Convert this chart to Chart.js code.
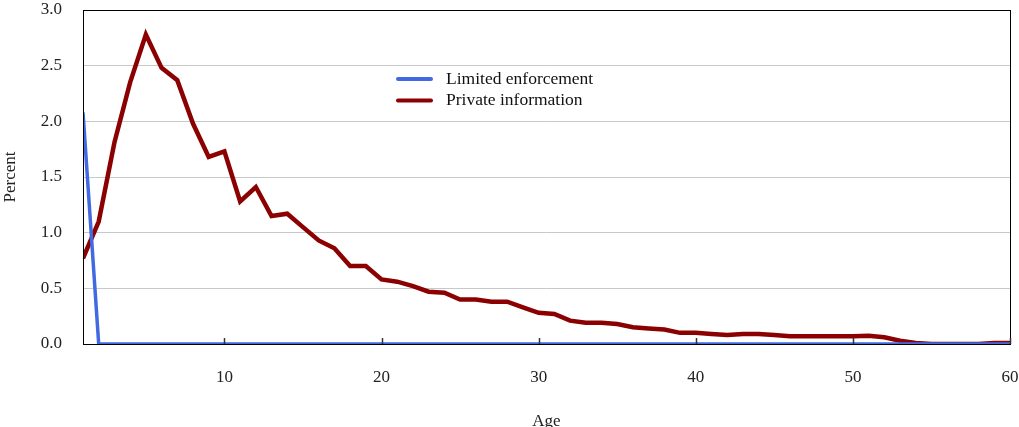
<!DOCTYPE html>
<html>
<head>
<meta charset="utf-8">
<script src="https://cdn.jsdelivr.net/npm/chart.js@4.4.1/dist/chart.umd.min.js"></script>
<style>
  html, body { margin: 0; padding: 0; background: #fff; }
  #wrap { position: relative; width: 1019px; height: 427px; }
</style>
</head>
<body>
<div id="wrap"><canvas id="chart" width="1019" height="427"></canvas></div>
<script>
/* ================= DATA ================= */
const ages = [];
for (let a = 1; a <= 60; a++) ages.push(a);

const limitedEnforcement = [
  2.08, 0, 0, 0, 0, 0, 0, 0, 0, 0,
  0, 0, 0, 0, 0, 0, 0, 0, 0, 0,
  0, 0, 0, 0, 0, 0, 0, 0, 0, 0,
  0, 0, 0, 0, 0, 0, 0, 0, 0, 0,
  0, 0, 0, 0, 0, 0, 0, 0, 0, 0,
  0, 0, 0, 0, 0, 0, 0, 0, 0, 0
];

const privateInformation = [
  0.77, 1.10, 1.81, 2.35, 2.78, 2.48, 2.37, 1.98, 1.68, 1.73,
  1.28, 1.41, 1.15, 1.17, 1.05, 0.93, 0.86, 0.70, 0.70, 0.58,
  0.56, 0.52, 0.47, 0.46, 0.40, 0.40, 0.38, 0.38, 0.33, 0.28,
  0.27, 0.21, 0.19, 0.19, 0.18, 0.15, 0.14, 0.13, 0.10, 0.10,
  0.09, 0.08, 0.09, 0.09, 0.08, 0.07, 0.07, 0.07, 0.07, 0.07,
  0.075, 0.06, 0.03, 0.01, 0, 0, 0, 0, 0.01, 0.01
];

const xTickValues = [10, 20, 30, 40, 50, 60];
const seriesLabels = ["Limited enforcement", "Private information"];
const seriesColors = ["#4169e1", "#8b0000"];

/* ================= PLUGINS ================= */
const FONT = "'Liberation Serif', 'Times New Roman', serif";

// frame around plot + small inward ticks on x axis
const framePlugin = {
  id: "frame",
  afterDraw(chart) {
    const { ctx, chartArea: a, scales } = chart;
    ctx.save();
    ctx.strokeStyle = "#000";
    ctx.lineWidth = 1;
    ctx.strokeRect(a.left + 0.5, a.top + 0.5, a.right - a.left, a.bottom - a.top);
    ctx.lineWidth = 1.5;
    ctx.strokeStyle = "#333";
    xTickValues.forEach(v => {
      const x = Math.round(scales.x.getPixelForValue(v)) + 0.5;
      ctx.beginPath();
      ctx.moveTo(x, a.bottom);
      ctx.lineTo(x, a.bottom - 6);
      ctx.stroke();
    });
    ctx.restore();
  }
};

// legend drawn inside the plot area
const legendPlugin = {
  id: "innerLegend",
  afterDraw(chart) {
    const { ctx } = chart;
    ctx.save();
    ctx.font = "17.5px " + FONT;
    ctx.textBaseline = "middle";
    chart.data.datasets.forEach((ds, i) => {
      const y = 79 + i * 21.5;
      ctx.strokeStyle = ds.borderColor;
      ctx.lineWidth = 4;
      ctx.lineCap = "round";
      ctx.beginPath();
      ctx.moveTo(398, y);
      ctx.lineTo(431, y);
      ctx.stroke();
      ctx.fillStyle = "#111";
      ctx.fillText(ds.label, 446, y);
    });
    ctx.restore();
  }
};

// keep tick padding from pushing the plot edges inward
const noEdgePadding = s => {
  s.paddingTop = 0;
  s.paddingBottom = 0;
  s.paddingLeft = 0;
  s.paddingRight = 0;
};

/* ================= CHART ================= */
const ctx = document.getElementById("chart").getContext("2d");

new Chart(ctx, {
  type: "line",
  data: {
    labels: ages,
    datasets: [
      {
        label: seriesLabels[0],
        data: ages.map((a, i) => ({ x: a, y: limitedEnforcement[i] })),
        borderColor: seriesColors[0],
        borderWidth: 3.5,
        pointRadius: 0,
        tension: 0
      },
      {
        label: seriesLabels[1],
        data: ages.map((a, i) => ({ x: a, y: privateInformation[i] })),
        borderColor: seriesColors[1],
        borderWidth: 4.5,
        pointRadius: 0,
        tension: 0
      }
    ]
  },
  options: {
    responsive: false,
    animation: false,
    layout: { autoPadding: false, padding: { left: 0, right: 9, top: 10, bottom: 0 } },
    plugins: {
      legend: { display: false },
      tooltip: { enabled: false }
    },
    scales: {
      x: {
        type: "linear",
        min: 1,
        max: 60,
        afterBuildTicks: s => { s.ticks = xTickValues.map(v => ({ value: v })); },
        afterFit: s => { s.height = 83; noEdgePadding(s); },
        grid: { display: false, drawTicks: false },
        border: { display: false },
        ticks: {
          color: "#222",
          font: { family: FONT, size: 17 },
          padding: 23,
          maxRotation: 0
        },
        title: {
          display: true,
          text: "Age",
          color: "#222",
          font: { family: FONT, size: 17 },
          padding: { top: 0, bottom: -5 }
        }
      },
      y: {
        min: 0,
        max: 3,
        afterFit: s => { s.width = 83; noEdgePadding(s); },
        ticks: {
          stepSize: 0.5,
          color: "#222",
          font: { family: FONT, size: 17 },
          padding: 21,
          callback: v => v.toFixed(1)
        },
        grid: { color: "#c8c8c8", lineWidth: 1, drawTicks: false },
        border: { display: false },
        title: {
          display: true,
          text: "Percent",
          color: "#222",
          font: { family: FONT, size: 17 },
          padding: { top: 0, bottom: 0 }
        }
      }
    }
  },
  plugins: [framePlugin, legendPlugin]
});
</script>
</body>
</html>
